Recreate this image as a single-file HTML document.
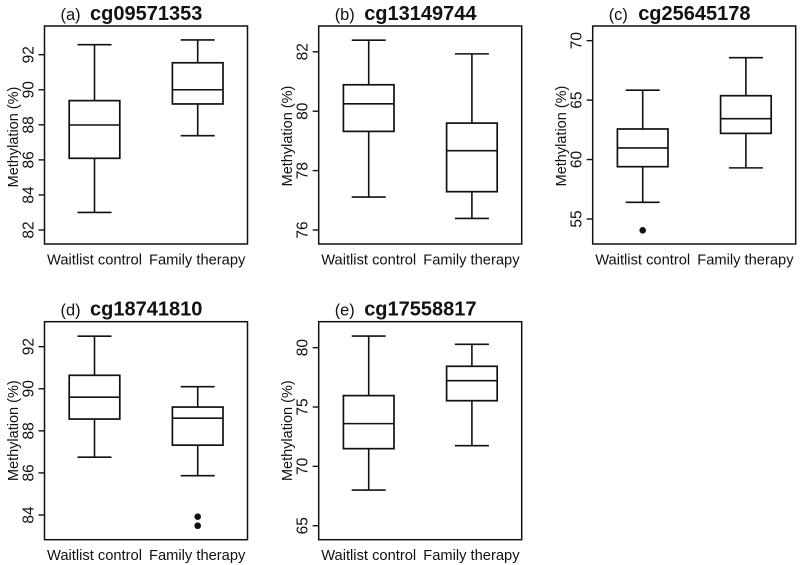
<!DOCTYPE html>
<html>
<head>
<meta charset="utf-8">
<title>Methylation boxplots</title>
<style>
html,body{margin:0;padding:0;background:#fff;}
svg{display:block;}
text{font-family:"Liberation Sans",Arial,sans-serif;fill:#111;}
</style>
</head>
<body>
<svg id="chart" xmlns="http://www.w3.org/2000/svg" width="800" height="565" viewBox="0 0 800 565"></svg>
<script>
// Shared categories
const categories = ["Waitlist control", "Family therapy"];

// Panel (a) cg09571353 – [whisker low, q1, median, q3, whisker high]
const aTitle = ["(a)", "cg09571353"];
const aTicks = [82, 84, 86, 88, 90, 92];
const aWaitlist = [83.0, 86.09, 87.99, 89.38, 92.57];
const aFamily = [87.38, 89.19, 90.0, 91.54, 92.84];
const aOutliersWaitlist = [];
const aOutliersFamily = [];

// Panel (b) cg13149744
const bTitle = ["(b)", "cg13149744"];
const bTicks = [76, 78, 80, 82];
const bWaitlist = [77.11, 79.32, 80.25, 80.89, 82.39];
const bFamily = [76.39, 77.29, 78.67, 79.6, 81.93];
const bOutliersWaitlist = [];
const bOutliersFamily = [];

// Panel (c) cg25645178
const cTitle = ["(c)", "cg25645178"];
const cTicks = [55, 60, 65, 70];
const cWaitlist = [56.4, 59.4, 60.98, 62.57, 65.83];
const cFamily = [59.3, 62.2, 63.44, 65.37, 68.57];
const cOutliersWaitlist = [54.05];
const cOutliersFamily = [];

// Panel (d) cg18741810
const dTitle = ["(d)", "cg18741810"];
const dTicks = [84, 86, 88, 90, 92];
const dWaitlist = [86.75, 88.56, 89.6, 90.64, 92.5];
const dFamily = [85.87, 87.32, 88.6, 89.13, 90.1];
const dOutliersWaitlist = [];
const dOutliersFamily = [83.92, 83.49];

// Panel (e) cg17558817
const eTitle = ["(e)", "cg17558817"];
const eTicks = [65, 70, 75, 80];
const eWaitlist = [68.0, 71.49, 73.6, 75.96, 80.98];
const eFamily = [71.74, 75.53, 77.22, 78.43, 80.28];
const eOutliersWaitlist = [];
const eOutliersFamily = [];

const svg = document.getElementById('chart');
const NS = 'http://www.w3.org/2000/svg';

function make(parent, tag, attrs, txt) {
  const el = document.createElementNS(NS, tag);
  for (const k in attrs) el.setAttribute(k, attrs[k]);
  if (txt !== undefined) el.textContent = txt;
  parent.appendChild(el);
  return el;
}

function line(parent, x1, y1, x2, y2, w) {
  return make(parent, 'line', {x1: x1, y1: y1, x2: x2, y2: y2, stroke: '#111', 'stroke-width': w});
}

function drawPanel(cfg) {
  const g = make(svg, 'g', {});
  
  

  // y axis function: maps value to pixel through two frame-relative anchors
  const y = v => cfg.top + cfg.anchorOffset + (cfg.anchorValue - v) * cfg.unit;
  const xCentre = i => cfg.left + 50 + i * 103.2;

  const frame = make(g, 'rect', {x: cfg.left, y: cfg.top, width: 203, height: 218, fill: 'none', stroke: '#111', 'stroke-width': 1.5});
  
  

  // title
  const t1 = make(g, 'text', {x: cfg.left + 16, y: cfg.top - 6, 'font-size': 16.4}, cfg.title[0]);
  
  
  const t2 = make(g, 'text', {x: cfg.left + 45.5, y: cfg.top - 6, 'font-size': 20, 'font-weight': 'bold'}, cfg.title[1]);
  
  

  // y axis title
  const yTitle = make(g, 'text', {x: 0, y: 0, 'font-size': 14.5, 'text-anchor': 'middle',
    transform: 'translate(' + (cfg.left - 26.5) + ',' + (cfg.top + cfg.labelShift) + ') rotate(-90)'}, 'Methylation (%)');
  
  

  // y ticks
  cfg.ticks.forEach(v => {
    const tick = line(g, cfg.left - 6, y(v), cfg.left, y(v), 1.4);
    
    
    const lab = make(g, 'text', {x: 0, y: 0, 'font-size': 15.5, 'text-anchor': 'middle',
      transform: 'translate(' + (cfg.left - 11) + ',' + y(v) + ') rotate(-90)'}, String(v));
    
    
  });

  // boxes
  cfg.series.forEach((s, i) => {
    const cx = xCentre(i);
    const box = make(g, 'g', {});
    
    
    const low = s[0], q1 = s[1], med = s[2], q3 = s[3], high = s[4];
    line(box, cx, y(high), cx, y(q3), 1.6);
    line(box, cx, y(q1), cx, y(low), 1.6);
    line(box, cx - 17, y(high), cx + 17, y(high), 1.6);
    line(box, cx - 17, y(low), cx + 17, y(low), 1.6);
    make(box, 'rect', {x: cx - 25.3, y: y(q3), width: 50.6, height: y(q1) - y(q3), fill: '#fff', stroke: '#111', 'stroke-width': 1.7});
    line(box, cx - 25.3, y(med), cx + 25.3, y(med), 1.6);
    cfg.outliers[i].forEach(o => {
      const dot = make(box, 'circle', {cx: cx, cy: y(o), r: 3.3, fill: '#111'});
      
      
    });
    const lab = make(g, 'text', {x: cx - (i === 0 ? 0 : 0.5), y: cfg.top + 238.5, 'font-size': 14.7, 'text-anchor': 'middle'}, categories[i]);
    
    
  });
}

drawPanel({title: aTitle, ticks: aTicks, left: 44.5, top: 26, anchorValue: 82, anchorOffset: 204, unit: 17.53, labelShift: 111,
  series: [aWaitlist, aFamily], outliers: [aOutliersWaitlist, aOutliersFamily]});
drawPanel({title: bTitle, ticks: bTicks, left: 318.7, top: 26, anchorValue: 76, anchorOffset: 204, unit: 29.7, labelShift: 110,
  series: [bWaitlist, bFamily], outliers: [bOutliersWaitlist, bOutliersFamily]});
drawPanel({title: cTitle, ticks: cTicks, left: 592.7, top: 26, anchorValue: 55, anchorOffset: 193, unit: 11.89, labelShift: 110,
  series: [cWaitlist, cFamily], outliers: [cOutliersWaitlist, cOutliersFamily]});
drawPanel({title: dTitle, ticks: dTicks, left: 44.5, top: 321.7, anchorValue: 84, anchorOffset: 193.3, unit: 21.04, labelShift: 109,
  series: [dWaitlist, dFamily], outliers: [dOutliersWaitlist, dOutliersFamily]});
drawPanel({title: eTitle, ticks: eTicks, left: 318.7, top: 321.7, anchorValue: 65, anchorOffset: 204, unit: 11.87, labelShift: 109,
  series: [eWaitlist, eFamily], outliers: [eOutliersWaitlist, eOutliersFamily]});
</script>
</body>
</html>
